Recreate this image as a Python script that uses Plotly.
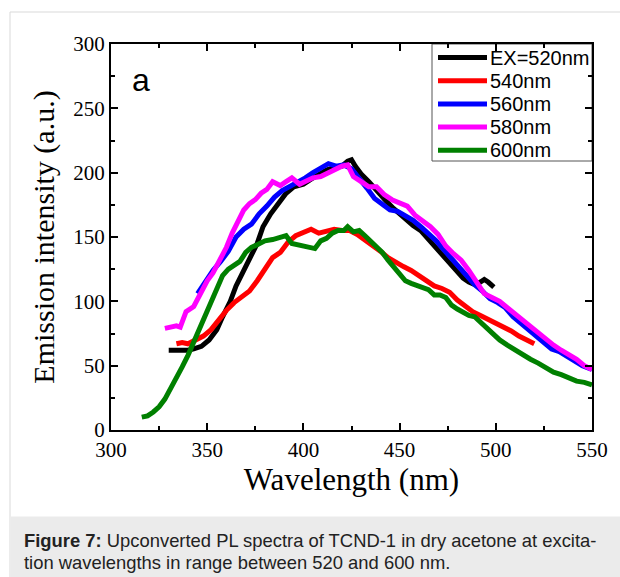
import plotly.graph_objects as go

# ---- data ----
names = ["EX=520nm", "540nm", "560nm", "580nm", "600nm"]
colors = ["#000000", "#ff0000", "#0000ff", "#ff00ff", "#008000"]

x_520 = [330, 335, 340, 343, 347, 351, 355, 358, 362, 365, 368, 372, 376, 379, 383, 387, 391, 395, 400, 404,
         408, 412, 416, 420, 423, 425, 427, 430, 434, 438, 443, 447, 452, 457, 461, 464, 468, 471, 474, 477,
         480, 483, 486, 489, 492, 494, 496, 499]
y_520 = [62, 62, 62, 63, 65, 70, 78, 88, 100, 112, 122, 133, 145, 158, 168, 176, 184, 189, 191, 195,
         199, 202, 204, 205, 209, 210, 205, 199, 193, 186, 178, 172, 165, 159, 155, 150, 143, 138, 132, 127,
         123, 118, 115, 113, 115, 117, 115, 111]

x_540 = [334, 337, 340, 344, 348, 352, 356, 360, 364, 368, 372, 376, 380, 384, 388, 392, 396, 400, 404, 408,
         412, 416, 420, 424, 428, 432, 436, 440, 444, 448, 452, 456, 460, 464, 468, 472, 476, 480, 484, 488,
         492, 496, 500, 504, 508, 512, 516, 520]
y_540 = [67, 68, 67, 70, 73, 78, 86, 93, 99, 103, 108, 116, 125, 134, 138, 146, 151, 153, 156, 153,
         155, 156, 155, 155, 152, 148, 143, 139, 134, 130, 127, 124, 120, 116, 112, 110, 107, 101, 96, 92,
         89, 86, 84, 80, 77, 73, 70, 67]

x_560 = [345, 349, 353, 357, 361, 365, 369, 373, 377, 381, 385, 389, 393, 397, 401, 405, 409, 413, 417, 421,
         425, 429, 433, 437, 441, 445, 449, 453, 457, 461, 465, 469, 473, 477, 481, 485, 489, 493, 497, 501,
         505, 509, 513, 517, 521, 525, 529, 533, 537, 541, 545, 550]
y_560 = [106, 115, 124, 131, 139, 150, 156, 160, 168, 174, 181, 186, 189, 193, 196, 200, 203, 207, 205, 206,
         203, 196, 188, 180, 175, 171, 170, 167, 163, 158, 153, 147, 140, 133, 126, 119, 113, 108, 102, 99,
         95, 88, 83, 78, 74, 69, 63, 61, 57, 53, 50, 47]

x_580 = [328, 331, 334, 336, 339, 343, 346, 350, 353, 357, 360, 363, 366, 369, 372, 375, 378, 381, 384, 388,
         391, 394, 398, 401, 405, 409, 413, 417, 420, 423, 426, 430, 434, 438, 442, 446, 450, 454, 458, 462,
         466, 470, 474, 478, 482, 486, 490, 494, 498, 502, 506, 510, 514, 518, 522, 526, 530, 534, 538, 542,
         546, 550]
y_580 = [79, 80, 81, 80, 92, 96, 104, 116, 122, 133, 142, 153, 163, 171, 176, 179, 184, 187, 193, 190,
         193, 196, 191, 193, 196, 197, 200, 202, 205, 206, 197, 193, 189, 189, 183, 179, 176, 174, 167, 163,
         158, 152, 143, 137, 132, 124, 115, 106, 103, 100, 95, 90, 85, 80, 76, 71, 66, 62, 59, 55,
         50, 47]

x_600 = [316, 319, 322, 325, 328, 331, 334, 337, 340, 343, 346, 349, 352, 355, 358, 361, 364, 367, 370, 373,
         376, 380, 384, 388, 391, 394, 397, 400, 403, 406, 409, 412, 415, 418, 421, 423, 426, 429, 432, 435,
         438, 441, 444, 447, 450, 453, 456, 459, 462, 465, 468, 471, 474, 477, 480, 483, 486, 489, 492, 495,
         498, 502, 506, 510, 514, 518, 522, 526, 530, 534, 538, 542, 546, 550]
y_600 = [10, 11, 14, 18, 24, 32, 40, 49, 58, 68, 78, 88, 98, 110, 120, 125, 128, 131, 138, 142,
         144, 147, 148, 150, 151, 145, 144, 143, 142, 141, 147, 149, 153, 155, 155, 158, 154, 155, 151, 147,
         143, 138, 132, 127, 122, 116, 114, 112, 111, 109, 105, 105, 103, 97, 94, 91, 89, 88, 84, 80,
         76, 70, 66, 62, 58, 55, 52, 48, 45, 43, 40, 38, 37, 35]

xs = [x_520, x_540, x_560, x_580, x_600]
ys = [y_520, y_540, y_560, y_580, y_600]

x_ticks = [300, 350, 400, 450, 500, 550]
y_ticks = [0, 50, 100, 150, 200, 250, 300]
panel_label = "a"
x_title = "Wavelength (nm)"
y_title = "Emission intensity (a.u.)"
caption_1 = "<b>Figure 7:</b> Upconverted PL spectra of TCND-1 in dry acetone at excita-"
caption_2 = "tion wavelengths in range between 520 and 600 nm."

W, H = 620, 577
L, R, T, B = 111, 592, 44, 430

def px(xp):
    return (xp - L) / (R - L)

def py(yp):
    return (B - yp) / (B - T)

fig = go.Figure()
for n, c, x, y in zip(names, colors, xs, ys):
    fig.add_trace(go.Scatter(x=x, y=y, mode="lines", name=n,
                             line=dict(color=c, width=5), showlegend=False))

serif = "Liberation Serif, Times New Roman, serif"
sans = "Liberation Sans, Arial, sans-serif"

axis_common = dict(showline=True, linecolor="black", linewidth=2, mirror="ticks",
                   ticks="inside", ticklen=7, tickwidth=1.5, tickcolor="black",
                   showgrid=False, zeroline=False,
                   tickfont=dict(family=serif, size=21, color="black"))

fig.update_xaxes(range=[300, 550], tickvals=x_ticks, ticktext=[str(v) for v in x_ticks],
                 minor=dict(ticks="inside", ticklen=4, tickwidth=1.5, tickcolor="black", dtick=25),
                 title=dict(text=x_title, font=dict(family=serif, size=31, color="black"), standoff=3),
                 **axis_common)
fig.update_yaxes(range=[0, 300], tickvals=y_ticks, ticktext=[str(v) for v in y_ticks],
                 minor=dict(ticks="inside", ticklen=4, tickwidth=1.5, tickcolor="black", dtick=25),
                 title=dict(text=y_title, font=dict(family=serif, size=30, color="black"), standoff=10),
                 **axis_common)

shapes = []
annotations = []
# outer figure frame and caption box
shapes.append(dict(type="rect", xref="paper", yref="paper", x0=px(10), x1=px(640), y0=py(600), y1=py(12),
                   line=dict(color="#d9d9d9", width=1), fillcolor="rgba(0,0,0,0)", layer="below"))
shapes.append(dict(type="rect", xref="paper", yref="paper", x0=px(10.5), x1=px(640), y0=py(600), y1=py(516.5),
                   line=dict(width=0), fillcolor="#ebebeb", layer="below"))

# legend box
shapes.append(dict(type="rect", xref="paper", yref="paper", x0=px(432), x1=px(592), y0=py(161), y1=py(44),
                   line=dict(color="#555555", width=1), fillcolor="white", layer="below"))
leg_y0, leg_dy = 57.5, 23.2
for i, (n, c) in enumerate(zip(names, colors)):
    yy = leg_y0 + i * leg_dy
    shapes.append(dict(type="line", xref="paper", yref="paper", x0=px(438), x1=px(487), y0=py(yy), y1=py(yy),
                       line=dict(color=c, width=5)))
    annotations.append(dict(x=px(488), y=py(yy), xref="paper", yref="paper", text=n, showarrow=False,
                            xanchor="left", yanchor="middle",
                            font=dict(family=sans, size=20, color="black")))

annotations.append(dict(x=px(130), y=py(80), xref="paper", yref="paper", text=panel_label, showarrow=False,
                        xanchor="left", yanchor="middle", font=dict(family=sans, size=32, color="black")))
annotations.append(dict(x=px(22), y=py(540), xref="paper", yref="paper", text=caption_1, showarrow=False,
                        xanchor="left", yanchor="middle", font=dict(family=sans, size=18.4, color="#222222")))
annotations.append(dict(x=px(22), y=py(562), xref="paper", yref="paper", text=caption_2, showarrow=False,
                        xanchor="left", yanchor="middle", font=dict(family=sans, size=18.4, color="#222222")))

fig.update_layout(width=W, height=H, margin=dict(l=L, r=W - R, t=T, b=H - B),
                  paper_bgcolor="white", plot_bgcolor="white",
                  shapes=shapes, annotations=annotations, showlegend=False)

fig.write_html("out.html", config={"displayModeBar": False},
               post_script="document.body.style.margin='0';document.body.style.padding='0';"
                           "document.body.style.overflow='hidden';")
